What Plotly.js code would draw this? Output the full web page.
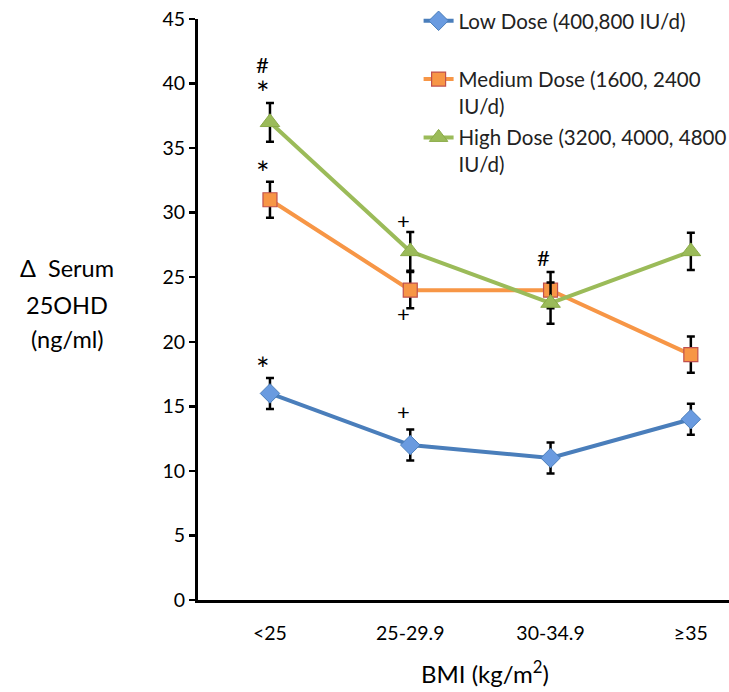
<!DOCTYPE html>
<html>
<head>
<meta charset="utf-8">
<script src="https://cdn.plot.ly/plotly-3.0.1.min.js"></script>
<style>html,body{margin:0;padding:0;background:#fff;}#chart{width:729px;height:692px;}</style>
</head>
<body>
<div id="chart"></div>
<script>
const categories = ['<25', '25-29.9', '30-34.9', '\u226535'];
const lowDose = [16, 12, 11, 14];
const lowErr = [1.2, 1.2, 1.2, 1.2];
const mediumDose = [31, 24, 24, 19];
const mediumErr = [1.4, 1.4, 1.4, 1.4];
const highDose = [37, 27, 23, 27];
const highErr = [1.5, 1.5, 1.6, 1.45];
const seriesNames = ['Low Dose (400,800 IU/d)<br>\u00a0', 'Medium Dose (1600, 2400<br>IU/d)', 'High Dose (3200, 4000, 4800<br>IU/d)'];
const yTitleLines = ['\u0394  Serum', '25OHD', '(ng/ml)'];
const xTitle = 'BMI (kg/m<sup>2</sup>)';
// significance marks: [category, y value, symbol]
const marks = [
  ['<25', 18.4, '*'],
  ['25-29.9', 14.6, '+'],
  ['<25', 33.6, '*'],
  ['<25', 39.8, '*'],
  ['<25', 41.5, '#'],
  ['25-29.9', 29.4, '+'],
  ['25-29.9', 22.2, '+'],
  ['30-34.9', 26.5, '#']
];

const FONT = 'Lato, "Open Sans", sans-serif';
const errStyle = {type: 'data', visible: true, color: '#000', thickness: 2.5, width: 4};

const traces = [
  {x: categories, y: lowDose, name: seriesNames[0], legendgroup: 'a', type: 'scatter', mode: 'lines+markers',
   line: {color: '#4A7EBB', width: 4},
   marker: {symbol: 'diamond', size: 15, color: '#6A9BE0', line: {color: '#4A7EBB', width: 1}},
   error_y: Object.assign({array: lowErr}, errStyle)},
  {x: categories, y: mediumDose, name: seriesNames[1], legendgroup: 'b', type: 'scatter', mode: 'lines+markers',
   line: {color: '#F79646', width: 4},
   marker: {symbol: 'square', size: 14, color: '#F79646', line: {color: '#C0504D', width: 1.2}},
   error_y: Object.assign({array: mediumErr}, errStyle)},
  {x: categories, y: highDose, name: seriesNames[2], legendgroup: 'c', type: 'scatter', mode: 'lines+markers',
   line: {color: '#9BBB59', width: 4},
   marker: {symbol: 'triangle-up', size: 17, color: '#9BBB59', line: {color: '#8AAA48', width: 1}},
   error_y: Object.assign({array: highErr}, errStyle)}
];

const annotations = marks.map(m => ({
  x: m[0], y: m[1], xref: 'x', yref: 'y', text: m[2], showarrow: false,
  xshift: -7, yshift: m[2] === '*' ? -6 : 0,
  font: {family: FONT, size: m[2] === '*' ? 32 : 22, color: '#000'}
}));
const yTitleY = [268, 305, 339];
yTitleLines.forEach((t, i) => {
  annotations.push({
    x: -0.2467, y: (600 - yTitleY[i]) / 581, xref: 'paper', yref: 'paper', xanchor: 'center', yanchor: 'middle',
    text: t, showarrow: false, font: {family: FONT, size: 23.5, color: '#000'}
  });
});
annotations.push({
  x: 0.540, y: -0.124, xref: 'paper', yref: 'paper', xanchor: 'center', yanchor: 'middle',
  text: xTitle, showarrow: false,
  font: {family: FONT, size: 24, color: '#000'}
});

const layout = {
  width: 729, height: 692,
  margin: {l: 198, r: 0, t: 19, b: 92, autoexpand: false},
  paper_bgcolor: '#fff', plot_bgcolor: '#fff',
  font: {family: FONT, size: 19.5, color: '#000'},
  showlegend: true,
  legend: {xref: 'container', yref: 'container', x: 0.5742, y: 0.9986, xanchor: 'left', yanchor: 'top', valign: 'top',
           traceorder: 'grouped', tracegroupgap: 2,
           bgcolor: 'rgba(0,0,0,0)', font: {family: FONT, size: 20.5, color: '#222'}},
  xaxis: {type: 'category', range: [-0.513, 3.272], showgrid: false, zeroline: false,
          showline: true, linecolor: '#000', linewidth: 3, ticks: '',
          ticklabelstandoff: 14, tickfont: {family: FONT, size: 19.5, color: '#000'}},
  yaxis: {range: [0, 45], dtick: 5, showgrid: false, zeroline: false,
          showline: true, linecolor: '#000', linewidth: 3, ticks: 'outside', ticklen: 6, tickwidth: 2.5,
          tickcolor: '#000', tickfont: {family: FONT, size: 19.5, color: '#000'}},
  annotations: annotations
};

Plotly.newPlot('chart', traces, layout, {displayModeBar: false, staticPlot: true});
</script>
</body>
</html>
